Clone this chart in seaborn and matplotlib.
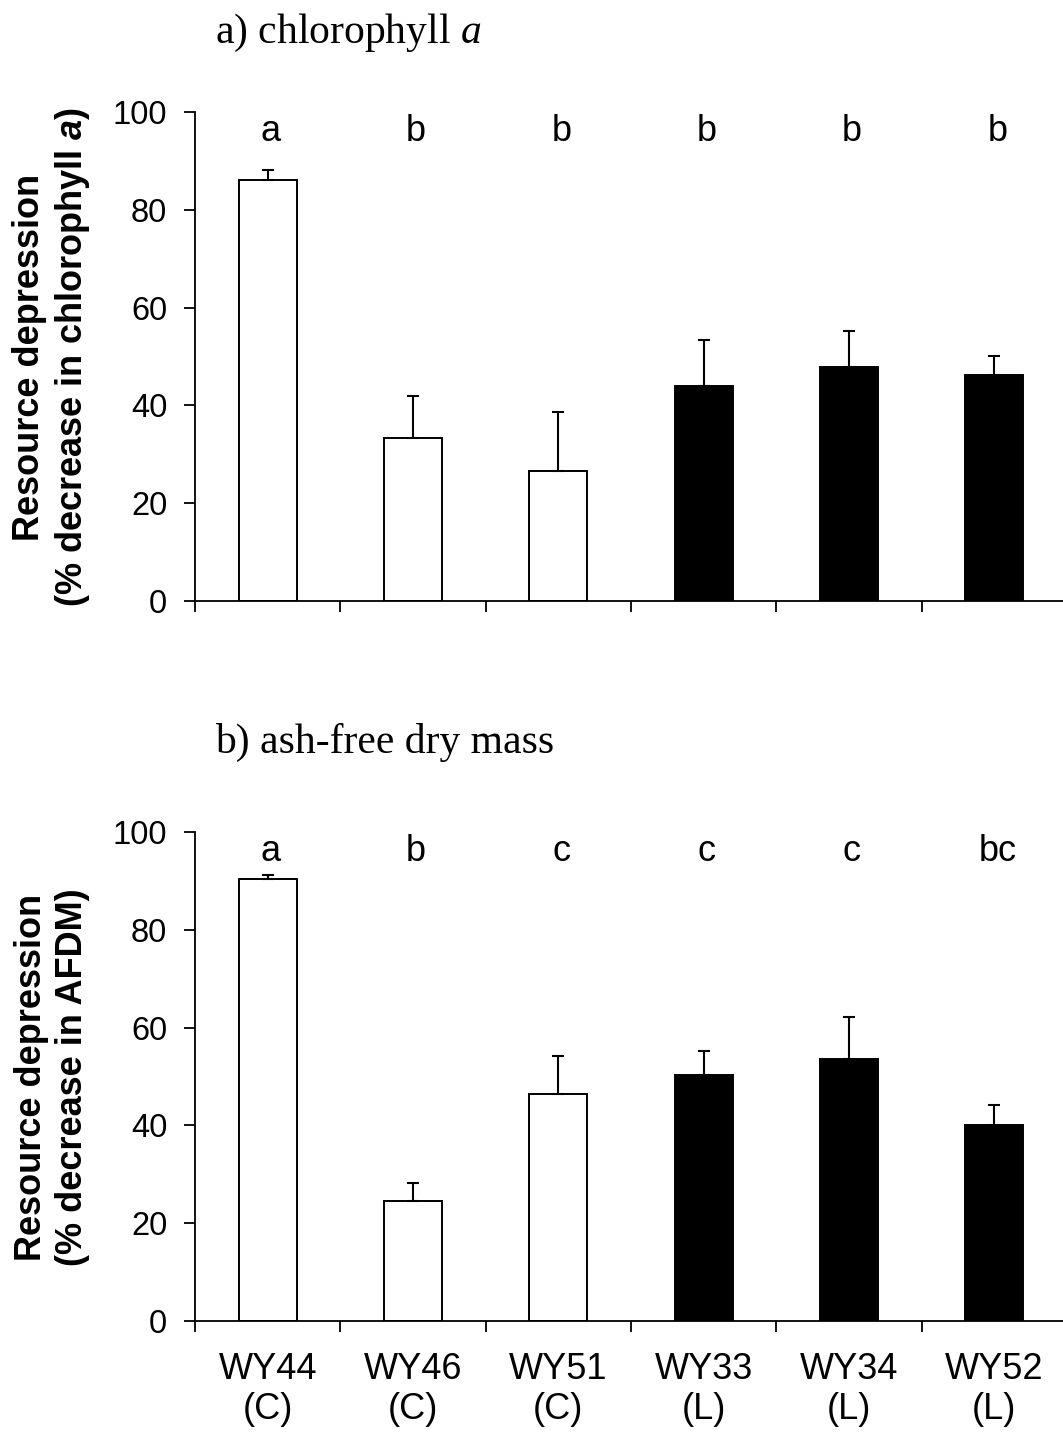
import numpy as np
import pandas as pd
import matplotlib
matplotlib.use("Agg")
import matplotlib.pyplot as plt
import seaborn as sns

# Sites and their stream type (C = control, L = treatment)
sites = ["WY44", "WY46", "WY51", "WY33", "WY34", "WY52"]
site_types = ["C", "C", "C", "L", "L", "L"]
tick_labels = ["WY44\n(C)", "WY46\n(C)", "WY51\n(C)", "WY33\n(L)", "WY34\n(L)", "WY52\n(L)"]

# a) chlorophyll a: mean % decrease and standard error
chl_mean = [86.1, 33.3, 26.6, 44.0, 47.9, 46.2]
chl_se = [2.0, 8.7, 12.0, 9.3, 7.3, 4.0]
chl_groups = ["a", "b", "b", "b", "b", "b"]

# b) ash-free dry mass: mean % decrease and standard error
afdm_mean = [90.3, 24.6, 46.4, 50.4, 53.6, 40.1]
afdm_se = [0.9, 3.7, 7.7, 4.8, 8.5, 4.1]
afdm_groups = ["a", "b", "c", "c", "c", "bc"]

sns.set_theme(style="white")
plt.rcParams["font.family"] = ["Liberation Sans", "DejaVu Sans"]
plt.rcParams["mathtext.fontset"] = "custom"
plt.rcParams["mathtext.it"] = "Liberation Serif:italic"
plt.rcParams["mathtext.bf"] = "Liberation Sans:bold:italic"

W, H = 1063, 1436
fig = plt.figure(figsize=(W / 100, H / 100), dpi=100)

left = 195 / W
width = 872 / W
ax_h = 489 / H
ax_top = fig.add_axes([left, 1 - 601 / H, width, ax_h])
ax_bot = fig.add_axes([left, 1 - 1321 / H, width, ax_h])

palette = {"C": "white", "L": "black"}


def draw_panel(ax, means, ses, groups, show_labels):
    df = pd.DataFrame({"site": sites, "value": means, "type": site_types})
    sns.barplot(data=df, x="site", y="value", hue="type", order=sites,
                palette=palette, dodge=False, width=0.4, edgecolor="black",
                linewidth=1.4, errorbar=None, legend=False, ax=ax)
    ax.errorbar(np.arange(len(sites)), means,
                yerr=[np.zeros(len(ses)), ses], fmt="none", ecolor="black",
                elinewidth=1.5, capsize=4.5, capthick=1.5, zorder=5)
    for i, g in enumerate(groups):
        ax.text(i + 0.02, 94, g, ha="center", va="baseline", fontsize=26,
                color="black")

    ax.set_xlim(-0.5, len(sites) - 0.5)
    ax.set_ylim(0, 100)
    ax.set_yticks(np.arange(0, 101, 20))
    ax.set_xticks(np.arange(-0.5, len(sites), 1), minor=True)
    ax.set_xlabel("")
    ax.set_ylabel("")
    for side in ("top", "right"):
        ax.spines[side].set_visible(False)
    for side in ("left", "bottom"):
        ax.spines[side].set_color("black")
        ax.spines[side].set_linewidth(1.3)
    ax.tick_params(axis="y", which="major", direction="out", length=8,
                   width=1.3, color="black", labelsize=23.5, pad=12,
                   left=True)
    ax.tick_params(axis="x", which="minor", direction="out", length=8,
                   width=1.3, color="black", bottom=True)
    ax.tick_params(axis="x", which="major", length=0, labelsize=26, pad=22)
    if show_labels:
        ax.set_xticks(np.arange(len(sites)))
        ax.set_xticklabels(tick_labels)
    else:
        ax.tick_params(axis="x", which="major", labelbottom=False)
    for lab in ax.get_yticklabels():
        lab.set_color("black")
    for lab in ax.get_xticklabels():
        lab.set_color("black")


draw_panel(ax_top, chl_mean, chl_se, chl_groups, False)
draw_panel(ax_bot, afdm_mean, afdm_se, afdm_groups, True)

# Panel titles
fig.text(215 / W, 1 - 43 / H, r"a) chlorophyll $a$", family="Liberation Serif",
         fontsize=30, ha="left", va="baseline", color="black")
fig.text(215 / W, 1 - 753 / H, "b) ash-free dry mass", family="Liberation Serif",
         fontsize=30, ha="left", va="baseline", color="black")

# Axis titles
fig.text(52 / W, 1 - 357 / H,
         "Resource depression\n" + r"(% decrease in chlorophyll $\mathbf{a}$)",
         rotation=90, ha="center", va="center", multialignment="center",
         fontsize=26, fontweight="bold", color="black")
fig.text(52 / W, 1 - 1077 / H,
         "Resource depression\n(% decrease in AFDM)",
         rotation=90, ha="center", va="center", multialignment="center",
         fontsize=26, fontweight="bold", color="black")

fig.savefig("out.png", dpi=100, facecolor="white")
